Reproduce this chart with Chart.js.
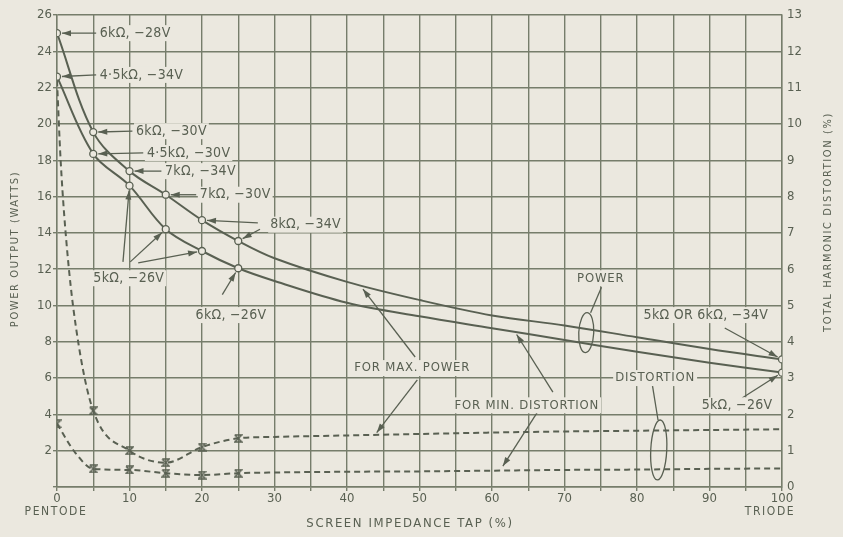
<!DOCTYPE html>
<html>
<head>
<meta charset="utf-8">
<script src="https://cdn.jsdelivr.net/npm/chart.js@4.4.1/dist/chart.umd.min.js"></script>
<style>
  html, body { margin: 0; padding: 0; background: #ebe8df; }
  #wrap { width: 843px; height: 537px; }
</style>
</head>
<body>
<div id="wrap"><canvas id="chart" width="843" height="537"></canvas></div>
<script>
// screen impedance tap (%) and power output (W), left axis
const powerTap = [0, 5, 10, 15, 20, 25, 30, 40, 50, 60, 70, 80, 90, 100];
const maxPowerW = [25.0, 19.55, 17.4, 16.1, 14.7, 13.55, 12.6, 11.3, 10.3, 9.45, 8.9, 8.25, 7.6, 7.03];
const minDistPowerW = [22.6, 18.35, 16.6, 14.2, 13.0, 12.05, 11.35, 10.15, 9.4, 8.75, 8.1, 7.45, 6.85, 6.3];
const maxPowerMarks = [0, 5, 10, 15, 20, 25, 100];
const minDistMarks = [0, 5, 10, 15, 20, 25, 100];

// total harmonic distortion (%), right axis
const maxPowerDistTap = [0, 0.5, 1.5, 3, 5, 10, 15, 20, 25, 30, 40, 50, 60, 70, 80, 90, 100];
const maxPowerDist = [11.2, 9.0, 6.3, 3.9, 2.1, 1.0, 0.67, 1.1, 1.34, 1.38, 1.42, 1.46, 1.5, 1.53, 1.55, 1.57, 1.59];
const maxPowerDistMarks = [5, 10, 15, 20, 25];
const minDistDistTap = [0, 2.5, 5, 10, 15, 20, 25, 30, 40, 50, 60, 70, 80, 90, 100];
const minDistDist = [1.74, 0.95, 0.5, 0.47, 0.38, 0.33, 0.38, 0.4, 0.42, 0.43, 0.45, 0.47, 0.48, 0.5, 0.51];
const minDistDistMarks = [0, 5, 10, 15, 20, 25];

const xTicks = [0, 10, 20, 30, 40, 50, 60, 70, 80, 90, 100];

const BG = '#ebe8df';
const INK = '#596052';
const GRID = '#767d6b';
const FONT = '"DejaVu Sans Condensed", "Liberation Sans Narrow", "DejaVu Sans", sans-serif';

// labels on the plot, placed in data units (x = tap %, y = watts)
const notes = [
  { text: '6kΩ, −28V', x: 5.9, y: 25.0, align: 'left' },
  { text: '4·5kΩ, −34V', x: 5.9, y: 22.7, align: 'left' },
  { text: '6kΩ, −30V', x: 10.9, y: 19.6, align: 'left' },
  { text: '4·5kΩ, −30V', x: 12.4, y: 18.4, align: 'left' },
  { text: '7kΩ, −34V', x: 14.9, y: 17.4, align: 'left' },
  { text: '7kΩ, −30V', x: 19.7, y: 16.1, align: 'left' },
  { text: '8kΩ, −34V', x: 29.4, y: 14.45, align: 'left' },
  { text: '5kΩ, −26V', x: 9.9, y: 11.5, align: 'center' },
  { text: '6kΩ, −26V', x: 24.0, y: 9.47, align: 'center' },
  { text: 'FOR MAX. POWER', x: 49.0, y: 6.55, align: 'center', small: true },
  { text: 'FOR MIN. DISTORTION', x: 64.8, y: 4.5, align: 'center', small: true },
  { text: 'POWER', x: 75.0, y: 11.5, align: 'center', small: true },
  { text: 'DISTORTION', x: 82.5, y: 6.0, align: 'center', small: true },
  { text: '5kΩ OR 6kΩ, −34V', x: 89.5, y: 9.47, align: 'center' },
  { text: '5kΩ, −26V', x: 93.8, y: 4.5, align: 'center' }
];

// arrows: [fromX, fromY, toX, toY, pointsAtMarker]
const arrows = [
  [5.4, 25.0, 0, 25.0, true],
  [5.4, 22.7, 0, 22.6, true],
  [10.4, 19.6, 5, 19.55, true],
  [11.9, 18.4, 5, 18.35, true],
  [14.4, 17.4, 10, 17.4, true],
  [19.2, 16.1, 15, 16.1, true],
  [27.7, 14.55, 20, 14.7, true],
  [28.0, 14.2, 25, 13.55, true],
  [9.1, 12.4, 10, 16.6, true],
  [10.1, 12.4, 15, 14.2, true],
  [11.2, 12.35, 20, 13.0, true],
  [22.8, 10.6, 25, 12.05, true],
  [49.4, 7.16, 42.2, 10.9, false],
  [49.7, 5.9, 44.1, 3.0, false],
  [68.4, 5.23, 63.4, 8.4, false],
  [66.2, 4.08, 61.5, 1.15, false],
  [92.1, 8.76, 100, 7.03, true],
  [94.5, 4.9, 100, 6.3, true]
];

// plain leader lines and ellipses (rx, ry in px)
const leaders = [
  [75.1, 11.0, 73.6, 9.6],
  [82.1, 5.67, 82.9, 3.69]
];
const rings = [
  { x: 73.0, y: 8.5, rx: 7.5, ry: 20 },
  { x: 83.0, y: 2.04, rx: 8, ry: 30 }
];

function marks(tap, marked) {
  return tap.map(t => (marked.includes(t) ? 3.5 : 0));
}

function pairs(xs, ys) {
  return xs.map((x, i) => ({ x: x, y: ys[i] }));
}

// hourglass marker used on the distortion curves
const hourglass = document.createElement('canvas');
hourglass.width = 9;
hourglass.height = 9;
(function () {
  const c = hourglass.getContext('2d');
  c.strokeStyle = INK;
  c.lineWidth = 1.5;
  c.beginPath();
  c.moveTo(1, 1); c.lineTo(8, 1); c.lineTo(1, 8); c.lineTo(8, 8); c.lineTo(1, 1);
  c.stroke();
})();

function drawArrow(ctx, x1, y1, x2, y2, head) {
  ctx.beginPath();
  ctx.moveTo(x1, y1);
  ctx.lineTo(x2, y2);
  ctx.stroke();
  if (!head) return;
  const a = Math.atan2(y2 - y1, x2 - x1);
  ctx.beginPath();
  ctx.moveTo(x2, y2);
  ctx.lineTo(x2 - 9 * Math.cos(a) + 3 * Math.sin(a), y2 - 9 * Math.sin(a) - 3 * Math.cos(a));
  ctx.lineTo(x2 - 9 * Math.cos(a) - 3 * Math.sin(a), y2 - 9 * Math.sin(a) + 3 * Math.cos(a));
  ctx.closePath();
  ctx.fill();
}

const paperPlugin = {
  id: 'paper',
  beforeDraw(chart) {
    const ctx = chart.ctx;
    ctx.save();
    ctx.fillStyle = BG;
    ctx.fillRect(0, 0, chart.width, chart.height);
    ctx.restore();
  },
  afterDraw(chart) {
    const ctx = chart.ctx;
    const sx = chart.scales.x;
    const sy = chart.scales.y;
    ctx.save();
    ctx.strokeStyle = INK;
    ctx.fillStyle = INK;
    ctx.lineWidth = 1.3;

    arrows.forEach(([fx, fy, tx, ty, atMark]) => {
      const x1 = sx.getPixelForValue(fx), y1 = sy.getPixelForValue(fy);
      let x2 = sx.getPixelForValue(tx), y2 = sy.getPixelForValue(ty);
      if (atMark) {
        const d = Math.hypot(x2 - x1, y2 - y1);
        x2 -= (x2 - x1) / d * 5;
        y2 -= (y2 - y1) / d * 5;
      }
      drawArrow(ctx, x1, y1, x2, y2, true);
    });
    leaders.forEach(([fx, fy, tx, ty]) => {
      drawArrow(ctx, sx.getPixelForValue(fx), sy.getPixelForValue(fy),
        sx.getPixelForValue(tx), sy.getPixelForValue(ty), false);
    });
    rings.forEach(r => {
      ctx.beginPath();
      ctx.ellipse(sx.getPixelForValue(r.x), sy.getPixelForValue(r.y), r.rx, r.ry, 0.05, 0, Math.PI * 2);
      ctx.stroke();
    });

    ctx.textBaseline = 'middle';
    notes.forEach(n => {
      ctx.font = (n.small ? '13px ' : '14px ') + FONT;
      if (n.small) ctx.letterSpacing = '0.8px'; else ctx.letterSpacing = '0.3px';
      const w = ctx.measureText(n.text).width;
      const px = sx.getPixelForValue(n.x), py = sy.getPixelForValue(n.y);
      const left = n.align === 'center' ? px - w / 2 : px;
      ctx.fillStyle = BG;
      ctx.fillRect(left - 2, py - 8, w + 4, 16);
      ctx.fillStyle = INK;
      ctx.textAlign = 'left';
      ctx.fillText(n.text, left, py);
    });

    // axis titles and end labels
    ctx.font = '11px ' + FONT;
    ctx.letterSpacing = '1.6px';
    ctx.textAlign = 'center';
    ctx.save();
    ctx.translate(15, 249);
    ctx.rotate(-Math.PI / 2);
    ctx.fillText('POWER OUTPUT (WATTS)', 0, 0);
    ctx.restore();
    ctx.save();
    ctx.translate(828, 222);
    ctx.rotate(-Math.PI / 2);
    ctx.fillText('TOTAL HARMONIC DISTORTION (%)', 0, 0);
    ctx.restore();
    ctx.font = '12px ' + FONT;
    ctx.fillText('PENTODE', 56, 512);
    ctx.fillText('TRIODE', 770, 512);
    ctx.font = '13px ' + FONT;
    ctx.fillText('SCREEN IMPEDANCE TAP (%)', 410, 524);
    ctx.restore();
  }
};

const lineStyle = {
  borderColor: INK,
  pointBorderColor: INK,
  pointBackgroundColor: BG,
  borderWidth: 2,
  pointBorderWidth: 1.3,
  fill: false
};

new Chart(document.getElementById('chart'), {
  type: 'line',
  data: {
    datasets: [
      Object.assign({}, lineStyle, {
        label: 'Power, for max. power',
        data: pairs(powerTap, maxPowerW),
        pointRadius: marks(powerTap, maxPowerMarks),
        tension: 0.35,
        yAxisID: 'y'
      }),
      Object.assign({}, lineStyle, {
        label: 'Power, for min. distortion',
        data: pairs(powerTap, minDistPowerW),
        pointRadius: marks(powerTap, minDistMarks),
        tension: 0.35,
        yAxisID: 'y'
      }),
      Object.assign({}, lineStyle, {
        label: 'Distortion, for max. power',
        data: pairs(maxPowerDistTap, maxPowerDist),
        pointRadius: marks(maxPowerDistTap, maxPowerDistMarks),
        pointStyle: hourglass,
        borderDash: [6, 4],
        cubicInterpolationMode: 'monotone',
        yAxisID: 'y1'
      }),
      Object.assign({}, lineStyle, {
        label: 'Distortion, for min. distortion',
        data: pairs(minDistDistTap, minDistDist),
        pointRadius: marks(minDistDistTap, minDistDistMarks),
        pointStyle: hourglass,
        borderDash: [6, 4],
        cubicInterpolationMode: 'monotone',
        yAxisID: 'y1'
      })
    ]
  },
  options: {
    responsive: false,
    animation: false,
    layout: { padding: { top: 15, left: 0, right: 0, bottom: 0 } },
    plugins: {
      legend: { display: false },
      tooltip: { enabled: false }
    },
    scales: {
      x: {
        type: 'linear',
        min: 0,
        max: 100,
        afterFit(scale) { scale.height = 50; },
        afterBuildTicks(scale) {
          const t = [];
          for (let v = 0; v <= 100; v += 5) t.push({ value: v });
          scale.ticks = t;
        },
        ticks: {
          color: INK,
          font: { family: FONT, size: 13 },
          padding: 0,
          maxRotation: 0,
          autoSkip: false,
          callback: v => (xTicks.includes(v) ? String(v) : '')
        },
        grid: { color: GRID, lineWidth: 1.4, tickLength: 4 },
        border: { color: GRID, width: 1.4 }
      },
      y: {
        position: 'left',
        min: 0,
        max: 26,
        afterFit(scale) { scale.width = 57; },
        ticks: {
          stepSize: 2,
          color: INK,
          font: { family: FONT, size: 13 },
          padding: 1,
          callback: v => (v === 0 ? '' : String(v))
        },
        grid: { color: GRID, lineWidth: 1.4, tickLength: 4 },
        border: { color: GRID, width: 1.4 }
      },
      y1: {
        position: 'right',
        min: 0,
        max: 13,
        afterFit(scale) { scale.width = 61; },
        ticks: {
          stepSize: 1,
          color: INK,
          font: { family: FONT, size: 13 },
          padding: 1
        },
        grid: { display: false, drawOnChartArea: false, tickLength: 4 },
        border: { color: GRID, width: 1.4 }
      }
    }
  },
  plugins: [paperPlugin]
});
</script>
</body>
</html>
